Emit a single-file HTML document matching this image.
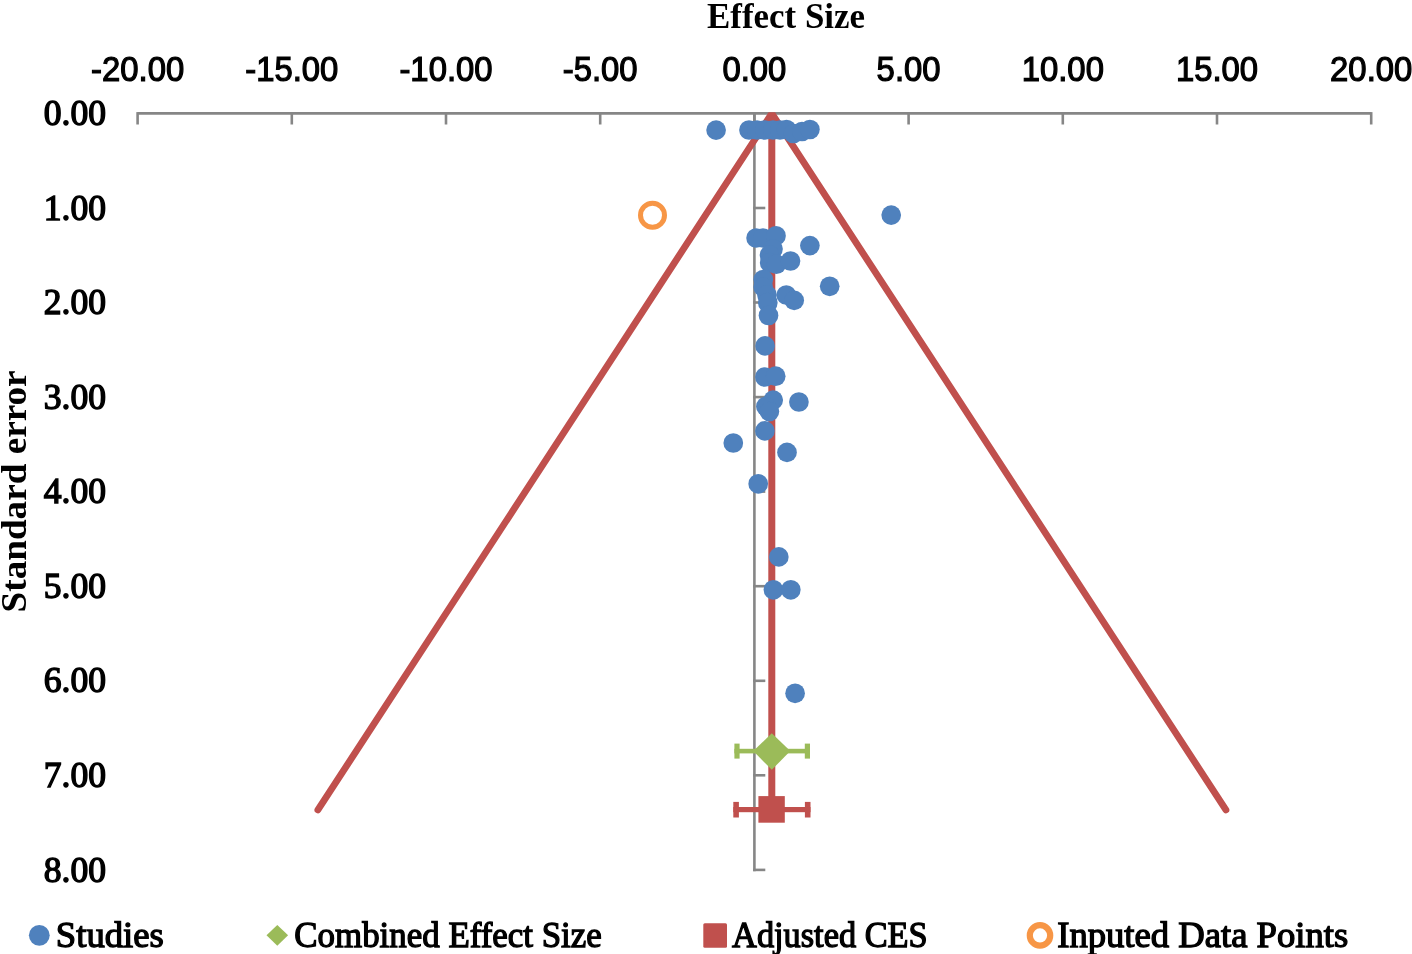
<!DOCTYPE html><html><head><meta charset="utf-8"><title>Funnel plot</title><style>html,body{margin:0;padding:0;background:#fff;overflow:hidden}svg{display:block;will-change:transform}</style></head><body>
<svg width="1412" height="954" viewBox="0 0 1412 954">
<rect width="1412" height="954" fill="#fff"/>
<text x="786" y="27.6" font-family="Liberation Serif, serif" font-weight="bold" font-size="35" text-anchor="middle" fill="#000" textLength="158" lengthAdjust="spacingAndGlyphs">Effect Size</text>
<text transform="translate(137.6,81.3) scale(0.95,1)" font-family="Liberation Sans, sans-serif" stroke="#000" stroke-width="1.2" font-size="34.6" text-anchor="middle" fill="#000">-20.00</text>
<text transform="translate(291.8,81.3) scale(0.95,1)" font-family="Liberation Sans, sans-serif" stroke="#000" stroke-width="1.2" font-size="34.6" text-anchor="middle" fill="#000">-15.00</text>
<text transform="translate(446.0,81.3) scale(0.95,1)" font-family="Liberation Sans, sans-serif" stroke="#000" stroke-width="1.2" font-size="34.6" text-anchor="middle" fill="#000">-10.00</text>
<text transform="translate(600.2,81.3) scale(0.95,1)" font-family="Liberation Sans, sans-serif" stroke="#000" stroke-width="1.2" font-size="34.6" text-anchor="middle" fill="#000">-5.00</text>
<text transform="translate(754.4,81.3) scale(0.95,1)" font-family="Liberation Sans, sans-serif" stroke="#000" stroke-width="1.2" font-size="34.6" text-anchor="middle" fill="#000">0.00</text>
<text transform="translate(908.6,81.3) scale(0.95,1)" font-family="Liberation Sans, sans-serif" stroke="#000" stroke-width="1.2" font-size="34.6" text-anchor="middle" fill="#000">5.00</text>
<text transform="translate(1062.8,81.3) scale(0.95,1)" font-family="Liberation Sans, sans-serif" stroke="#000" stroke-width="1.2" font-size="34.6" text-anchor="middle" fill="#000">10.00</text>
<text transform="translate(1217.0,81.3) scale(0.95,1)" font-family="Liberation Sans, sans-serif" stroke="#000" stroke-width="1.2" font-size="34.6" text-anchor="middle" fill="#000">15.00</text>
<text transform="translate(1371.2,81.3) scale(0.95,1)" font-family="Liberation Sans, sans-serif" stroke="#000" stroke-width="1.2" font-size="34.6" text-anchor="middle" fill="#000">20.00</text>
<text x="106" y="125.0" font-family="Liberation Serif, serif" stroke="#000" stroke-width="1.4" font-size="35.6" text-anchor="end" fill="#000">0.00</text>
<text x="106" y="219.6" font-family="Liberation Serif, serif" stroke="#000" stroke-width="1.4" font-size="35.6" text-anchor="end" fill="#000">1.00</text>
<text x="106" y="314.1" font-family="Liberation Serif, serif" stroke="#000" stroke-width="1.4" font-size="35.6" text-anchor="end" fill="#000">2.00</text>
<text x="106" y="408.7" font-family="Liberation Serif, serif" stroke="#000" stroke-width="1.4" font-size="35.6" text-anchor="end" fill="#000">3.00</text>
<text x="106" y="503.2" font-family="Liberation Serif, serif" stroke="#000" stroke-width="1.4" font-size="35.6" text-anchor="end" fill="#000">4.00</text>
<text x="106" y="597.8" font-family="Liberation Serif, serif" stroke="#000" stroke-width="1.4" font-size="35.6" text-anchor="end" fill="#000">5.00</text>
<text x="106" y="692.4" font-family="Liberation Serif, serif" stroke="#000" stroke-width="1.4" font-size="35.6" text-anchor="end" fill="#000">6.00</text>
<text x="106" y="786.9" font-family="Liberation Serif, serif" stroke="#000" stroke-width="1.4" font-size="35.6" text-anchor="end" fill="#000">7.00</text>
<text x="106" y="881.5" font-family="Liberation Serif, serif" stroke="#000" stroke-width="1.4" font-size="35.6" text-anchor="end" fill="#000">8.00</text>
<text transform="translate(25.6,491.4) rotate(-90)" x="0" y="0" font-family="Liberation Serif, serif" font-weight="bold" font-size="36.5" text-anchor="middle" fill="#000" textLength="242" lengthAdjust="spacingAndGlyphs">Standard error</text>
<g stroke="#868686" stroke-width="2.6" fill="none" stroke-linecap="butt">
<path d="M137.6 113.4 H1371.2"/>
<path d="M137.6 112.1 V124.5"/>
<path d="M291.8 112.1 V124.5"/>
<path d="M446.0 112.1 V124.5"/>
<path d="M600.2 112.1 V124.5"/>
<path d="M754.4 112.1 V124.5"/>
<path d="M908.6 112.1 V124.5"/>
<path d="M1062.8 112.1 V124.5"/>
<path d="M1217.0 112.1 V124.5"/>
<path d="M1371.2 112.1 V124.5"/>
<path d="M754.4 113.4 V871.2"/>
<path d="M753.1 208.0 H765.3"/>
<path d="M753.1 302.5 H765.3"/>
<path d="M753.1 397.1 H765.3"/>
<path d="M753.1 491.6 H765.3"/>
<path d="M753.1 586.2 H765.3"/>
<path d="M753.1 680.8 H765.3"/>
<path d="M753.1 775.3 H765.3"/>
<path d="M753.1 869.9 H765.3"/>
</g>
<defs><clipPath id="pa"><rect x="0" y="112.2" width="1412" height="760"/></clipPath></defs>
<g clip-path="url(#pa)">
<path d="M317.9 809.9 L771.8 113.4 L1225.9 809.9" fill="none" stroke="#C0504D" stroke-width="6.8" stroke-linecap="round" stroke-linejoin="miter" stroke-miterlimit="10"/>
<path d="M771.8 113.4 V809" fill="none" stroke="#C0504D" stroke-width="7"/>
</g>
<circle cx="716.1" cy="130.1" r="9.85" fill="#4F81BD"/>
<circle cx="749" cy="130" r="9.85" fill="#4F81BD"/>
<circle cx="757" cy="130" r="9.85" fill="#4F81BD"/>
<circle cx="765" cy="130" r="9.85" fill="#4F81BD"/>
<circle cx="773" cy="130" r="9.85" fill="#4F81BD"/>
<circle cx="780" cy="130" r="9.85" fill="#4F81BD"/>
<circle cx="786.5" cy="129.5" r="9.85" fill="#4F81BD"/>
<circle cx="793.5" cy="133.5" r="9.85" fill="#4F81BD"/>
<circle cx="802" cy="131.5" r="9.85" fill="#4F81BD"/>
<circle cx="809.9" cy="129.5" r="9.85" fill="#4F81BD"/>
<circle cx="891.2" cy="215.1" r="9.85" fill="#4F81BD"/>
<circle cx="756.1" cy="238" r="9.85" fill="#4F81BD"/>
<circle cx="763" cy="238" r="9.85" fill="#4F81BD"/>
<circle cx="776" cy="235.8" r="9.85" fill="#4F81BD"/>
<circle cx="809.9" cy="245.6" r="9.85" fill="#4F81BD"/>
<circle cx="773" cy="249" r="9.85" fill="#4F81BD"/>
<circle cx="769.5" cy="255" r="9.85" fill="#4F81BD"/>
<circle cx="769.7" cy="262.7" r="9.85" fill="#4F81BD"/>
<circle cx="776.4" cy="264.2" r="9.85" fill="#4F81BD"/>
<circle cx="790.5" cy="261" r="9.85" fill="#4F81BD"/>
<circle cx="763.3" cy="279.5" r="9.85" fill="#4F81BD"/>
<circle cx="763.2" cy="287" r="9.85" fill="#4F81BD"/>
<circle cx="829.7" cy="286.3" r="9.85" fill="#4F81BD"/>
<circle cx="786.3" cy="295" r="9.85" fill="#4F81BD"/>
<circle cx="794.2" cy="300.4" r="9.85" fill="#4F81BD"/>
<circle cx="767" cy="295" r="9.85" fill="#4F81BD"/>
<circle cx="767.8" cy="302.7" r="9.85" fill="#4F81BD"/>
<circle cx="768.5" cy="315.5" r="9.85" fill="#4F81BD"/>
<circle cx="765.1" cy="345.9" r="9.85" fill="#4F81BD"/>
<circle cx="764.9" cy="377" r="9.85" fill="#4F81BD"/>
<circle cx="775.7" cy="376.2" r="9.85" fill="#4F81BD"/>
<circle cx="773.2" cy="400.1" r="9.85" fill="#4F81BD"/>
<circle cx="765.9" cy="406.5" r="9.85" fill="#4F81BD"/>
<circle cx="769.4" cy="411.6" r="9.85" fill="#4F81BD"/>
<circle cx="798.9" cy="402" r="9.85" fill="#4F81BD"/>
<circle cx="764.9" cy="430.9" r="9.85" fill="#4F81BD"/>
<circle cx="733.3" cy="443" r="9.85" fill="#4F81BD"/>
<circle cx="787" cy="452.4" r="9.85" fill="#4F81BD"/>
<circle cx="758.2" cy="483.8" r="9.85" fill="#4F81BD"/>
<circle cx="778.8" cy="556.9" r="9.85" fill="#4F81BD"/>
<circle cx="773.4" cy="589.8" r="9.85" fill="#4F81BD"/>
<circle cx="790.8" cy="589.8" r="9.85" fill="#4F81BD"/>
<circle cx="795.1" cy="693.3" r="9.85" fill="#4F81BD"/>
<circle cx="652.5" cy="215.3" r="12" fill="none" stroke="#F79646" stroke-width="5"/>
<g fill="#9BBB59"><rect x="734.4" y="748.8" width="75.6" height="4.6"/><rect x="734.4" y="743.6" width="5.2" height="15"/><rect x="804.8" y="743.6" width="5.2" height="15"/>
<path d="M771.8 733.3 L790.3 751.1 L771.8 769.8 L753.3 751.1Z"/></g>
<g fill="#C0504D"><rect x="733.3" y="807" width="77.2" height="5.2"/><rect x="733.3" y="801.9" width="5.6" height="15.6"/><rect x="804.9" y="801.9" width="5.6" height="15.6"/>
<rect x="758.4" y="796.1" width="26.4" height="26.6"/></g>
<circle cx="39.3" cy="935.3" r="10.4" fill="#4F81BD"/>
<text x="55.8" y="946.5" font-family="Liberation Serif, serif" stroke="#000" stroke-width="1.3" font-size="36.2" fill="#000" textLength="108" lengthAdjust="spacingAndGlyphs">Studies</text>
<path d="M277.3 924.9 L288.1 935.3 L277.3 945.7 L266.5 935.3Z" fill="#9BBB59"/>
<text x="294.3" y="946.6" font-family="Liberation Serif, serif" stroke="#000" stroke-width="1.3" font-size="36.2" fill="#000" textLength="307.5" lengthAdjust="spacingAndGlyphs">Combined Effect Size</text>
<rect x="703.3" y="923.3" width="23.7" height="24.4" rx="1.5" fill="#C0504D"/>
<text x="732.1" y="946.5" font-family="Liberation Serif, serif" stroke="#000" stroke-width="1.3" font-size="36.2" fill="#000" textLength="195.5" lengthAdjust="spacingAndGlyphs">Adjusted CES</text>
<circle cx="1040" cy="935.4" r="10.2" fill="none" stroke="#F79646" stroke-width="6.2"/>
<text x="1057.2" y="946.7" font-family="Liberation Serif, serif" stroke="#000" stroke-width="1.3" font-size="36.2" fill="#000" textLength="291" lengthAdjust="spacingAndGlyphs">Inputed Data Points</text>
</svg></body></html>
